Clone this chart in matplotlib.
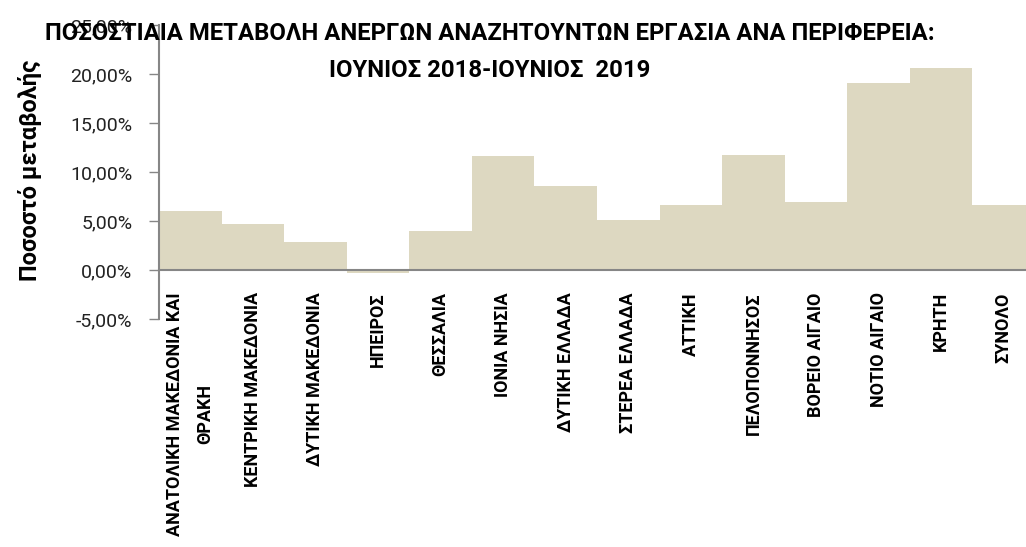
import numpy as np
import matplotlib.pyplot as plt
from matplotlib.ticker import FuncFormatter

plt.rcParams['font.family'] = ['Roboto', 'DejaVu Sans']

# data (percent change, June 2018 -> June 2019)
regions = [
    "ΑΝΑΤΟΛΙΚΗ ΜΑΚΕΔΟΝΙΑ ΚΑΙ\nΘΡΑΚΗ",
    "ΚΕΝΤΡΙΚΗ ΜΑΚΕΔΟΝΙΑ",
    "ΔΥΤΙΚΗ ΜΑΚΕΔΟΝΙΑ",
    "ΗΠΕΙΡΟΣ",
    "ΘΕΣΣΑΛΙΑ",
    "ΙΟΝΙΑ ΝΗΣΙΑ",
    "ΔΥΤΙΚΗ ΕΛΛΑΔΑ",
    "ΣΤΕΡΕΑ ΕΛΛΑΔΑ",
    "ΑΤΤΙΚΗ",
    "ΠΕΛΟΠΟΝΝΗΣΟΣ",
    "ΒΟΡΕΙΟ ΑΙΓΑΙΟ",
    "ΝΟΤΙΟ ΑΙΓΑΙΟ",
    "ΚΡΗΤΗ",
    "ΣΥΝΟΛΟ",
]
change = [6.0, 4.7, 2.86, -0.27, 4.0, 11.6, 8.57, 5.1, 6.63, 11.7, 6.94, 19.1, 20.6, 6.63]
yticks = [-5, 0, 5, 10, 15, 20, 25]

W, H = 1026, 547
fig = plt.figure(figsize=(W / 100, H / 100), dpi=100)

# axes placed in pixels: y-axis at x=159, 25% at y=25, -5% at y=319
left, right, top, bottom = 159, 1035, 25, 319
ax = fig.add_axes([left / W, (H - bottom) / H, (right - left) / W, (bottom - top) / H])

x = np.arange(len(regions))
ax.bar(x, change, width=1.0, color="#ddd8c1", edgecolor="none", zorder=2)

ax.set_xlim(-0.5, len(regions) - 0.5)
ax.set_ylim(-5, 25)
ax.set_yticks(yticks)
ax.yaxis.set_major_formatter(FuncFormatter(lambda v, p: f"{v:.2f}%".replace(".", ",")))

grey = "#868686"
for s in ["top", "right"]:
    ax.spines[s].set_visible(False)
ax.spines["left"].set_color(grey)
ax.spines["left"].set_linewidth(1.5)
ax.spines["bottom"].set_position(("data", 0))
ax.spines["bottom"].set_color(grey)
ax.spines["bottom"].set_linewidth(1.5)
ax.spines["bottom"].set_zorder(3)

ax.tick_params(axis="y", direction="out", length=7, width=1, color=grey,
               labelsize=14, labelcolor="#222222", pad=12)
ax.set_xticks(x)
ax.set_xticklabels(regions, rotation=90, fontsize=13, fontweight="bold",
                   multialignment="center", va="top", ha="center", linespacing=1.9)
ax.tick_params(axis="x", length=0, pad=16)

fig.text(490 / W, 1 - 22 / H,
         "ΠΟΣΟΣΤΙΑΙΑ ΜΕΤΑΒΟΛΗ ΑΝΕΡΓΩΝ ΑΝΑΖΗΤΟΥΝΤΩΝ ΕΡΓΑΣΙΑ ΑΝΑ ΠΕΡΙΦΕΡΕΙΑ:\nΙΟΥΝΙΟΣ 2018-ΙΟΥΝΙΟΣ  2019",
         ha="center", va="top", fontsize=17.2, fontweight="bold", linespacing=1.8)
fig.text(30 / W, 1 - 170 / H, "Ποσοστό μεταβολής", rotation=90,
         ha="center", va="center", fontsize=17, fontweight="bold")

fig.savefig("out.png", dpi=100)
